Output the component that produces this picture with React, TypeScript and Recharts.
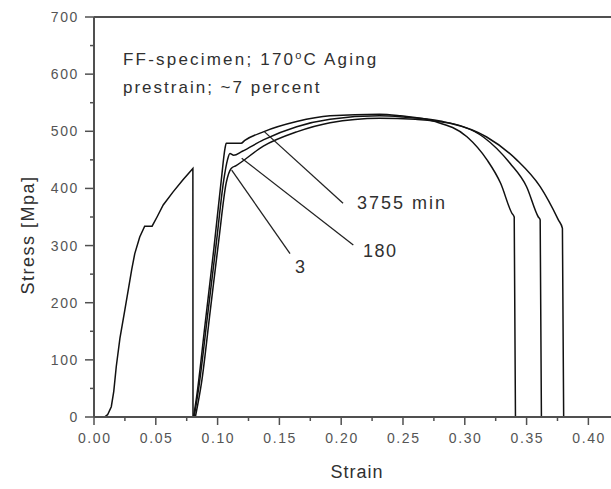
import React from 'react';
import { LineChart, Line, XAxis, YAxis, ReferenceLine } from 'recharts';

// axis ticks (minor ticks every 0.025 / 50, labels only on the majors)
const strainTicks = [0, 0.025, 0.05, 0.075, 0.1, 0.125, 0.15, 0.175, 0.2, 0.225, 0.25, 0.275, 0.3, 0.325, 0.35, 0.375, 0.4];
const stressTicks = [0, 50, 100, 150, 200, 250, 300, 350, 400, 450, 500, 550, 600, 650, 700];

// [strain, stress MPa]
const prestrain: [number, number][] = [
  [0.0085, 0], [0.011, 4], [0.014, 18], [0.016, 45], [0.018, 88], [0.021, 138], [0.025, 188],
  [0.028, 226], [0.0305, 258], [0.033, 286], [0.037, 315], [0.041, 334], [0.047, 334],
  [0.051, 350], [0.056, 371], [0.064, 394], [0.072, 415], [0.080, 435], [0.0801, 0],
];

const aged3755: [number, number][] = [
  [0.0805, 0], [0.083, 35], [0.090, 165], [0.097, 295], [0.103, 415], [0.106, 470], [0.107, 479],
  [0.119, 479], [0.122, 484], [0.137, 499], [0.164, 517], [0.191, 527], [0.231, 530], [0.248, 527],
  [0.2745, 518], [0.302, 490], [0.318, 450], [0.329, 409], [0.338, 357], [0.340, 350], [0.341, 0],
];

const aged180: [number, number][] = [
  [0.081, 0], [0.085, 55], [0.092, 180], [0.099, 305], [0.105, 415], [0.108, 450], [0.110, 461],
  [0.113, 458], [0.120, 465], [0.137, 485], [0.164, 508], [0.191, 521], [0.231, 527], [0.250, 525],
  [0.280, 518], [0.315, 490], [0.3366, 444], [0.350, 403], [0.3595, 350], [0.361, 345], [0.362, 0],
];

const aged3: [number, number][] = [
  [0.082, 0], [0.087, 60], [0.094, 185], [0.101, 310], [0.107, 410], [0.111, 435], [0.115, 440],
  [0.137, 474], [0.164, 499], [0.191, 515], [0.231, 523], [0.260, 521], [0.288, 514], [0.3177, 490],
  [0.342, 450], [0.361, 403], [0.3757, 345], [0.379, 330], [0.380, 0],
];

const agedSeries = [aged3755, aged180, aged3];

// leader lines from the time labels to their curves
const leaders: [number, number, number, number][] = [
  [0.2015, 374, 0.138, 499],
  [0.2098, 301, 0.1195, 453],
  [0.1586, 286, 0.1114, 432],
];

const toPoints = (pts: [number, number][]) => pts.map(([x, y]) => ({ x, y }));

const AXIS = '#505050';
const INK = '#303030';
const FONT = '"Liberation Sans", Arial, sans-serif';

const StrainTick = ({ x, y, payload }: any) => {
  const v = payload.value;
  const major = Math.abs(v * 20 - Math.round(v * 20)) < 1e-6;
  return (
    <g>
      <line x1={x} x2={x} y1={y} y2={y + (major ? 8 : 4)} stroke={AXIS} strokeWidth={1.5} />
      {major && (
        <text x={x + 0.8} y={y + 26} textAnchor="middle" fontSize={14} letterSpacing={1.6} fill="#555" fontFamily={FONT}>
          {v.toFixed(2)}
        </text>
      )}
    </g>
  );
};

const StressTick = ({ x, y, payload }: any) => {
  const v = payload.value;
  const major = v % 100 === 0;
  return (
    <g>
      <line x1={x} x2={x - (major ? 9 : 4)} y1={y} y2={y} stroke={AXIS} strokeWidth={1.5} />
      {major && (
        <text x={x - 15} y={y + 5} textAnchor="end" fontSize={14} letterSpacing={1.6} fill="#555" fontFamily={FONT}>
          {v}
        </text>
      )}
    </g>
  );
};

const App: React.FC = () => {
  return (
    <div style={{ position: 'absolute', left: 0, top: 0, width: 611, height: 489, background: '#fff' }}>
      <LineChart width={611} height={489} margin={{ top: 17, right: 0, bottom: 0, left: 0 }}>
        <XAxis
          type="number"
          dataKey="x"
          domain={[0, 0.4183]}
          ticks={strainTicks}
          interval={0}
          allowDataOverflow
          height={72}
          tickSize={0}
          tickMargin={0}
          tickLine={false}
          tick={<StrainTick />}
          axisLine={{ stroke: AXIS, strokeWidth: 2 }}
        />
        <YAxis
          type="number"
          dataKey="y"
          domain={[0, 700]}
          ticks={stressTicks}
          interval={0}
          width={94}
          tickSize={0}
          tickMargin={0}
          tickLine={false}
          tick={<StressTick />}
          axisLine={{ stroke: AXIS, strokeWidth: 2 }}
        />
        <ReferenceLine y={700} stroke={AXIS} strokeWidth={2} />
        <Line
          data={toPoints(prestrain)}
          dataKey="y"
          type="linear"
          stroke="#111"
          strokeWidth={1.5}
          dot={false}
          isAnimationActive={false}
        />
        {agedSeries.map((s, i) => (
          <Line
            key={i}
            data={toPoints(s)}
            dataKey="y"
            type="monotoneX"
            stroke="#111"
            strokeWidth={1.5}
            dot={false}
            isAnimationActive={false}
          />
        ))}
        {leaders.map(([x1, y1, x2, y2], i) => (
          <ReferenceLine
            key={'l' + i}
            segment={[{ x: x1, y: y1 }, { x: x2, y: y2 }]}
            stroke="#222"
            strokeWidth={1.3}
          />
        ))}
      </LineChart>
      <svg width={611} height={489} style={{ position: 'absolute', left: 0, top: 0, pointerEvents: 'none' }} fontFamily={FONT} fill={INK}>
        <text x={123} y={65} fontSize={17} letterSpacing={2.2}>
          FF-specimen; 170<tspan dy={-6} fontSize={11}>o</tspan><tspan dy={6}>C Aging</tspan>
        </text>
        <text x={123} y={93} fontSize={17} letterSpacing={2}>prestrain; ~7 percent</text>
        <text x={357} y={209} fontSize={18} letterSpacing={2}>3755 min</text>
        <text x={363} y={257} fontSize={18} letterSpacing={1.5}>180</text>
        <text x={295} y={273} fontSize={18} letterSpacing={1}>3</text>
        <text x={357} y={478} fontSize={18} letterSpacing={1} textAnchor="middle">Strain</text>
        <text x={34} y={235} fontSize={18} letterSpacing={1.5} textAnchor="middle" transform="rotate(-90 34 235)">
          Stress [Mpa]
        </text>
      </svg>
    </div>
  );
};

export default App;
